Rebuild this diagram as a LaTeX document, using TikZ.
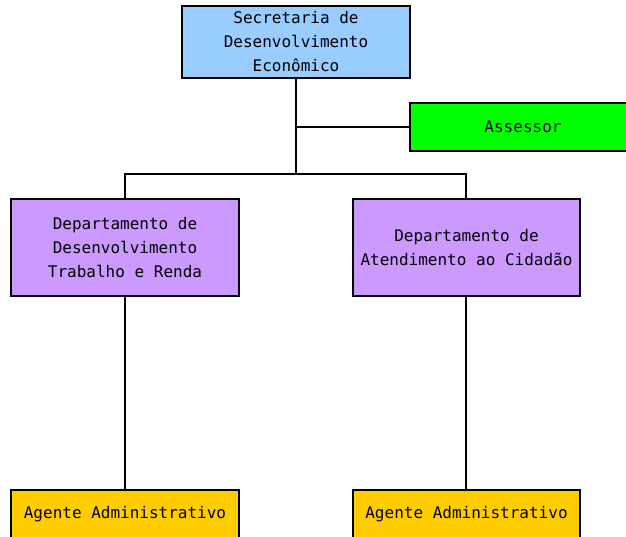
\documentclass[tikz,border=0pt]{standalone}
\usepackage{fontspec}
\setmonofont{DejaVu Sans Mono}
\definecolor{cblue}{HTML}{99CCFF}
\definecolor{cgreen}{HTML}{00FF00}
\definecolor{cviolet}{HTML}{CC99FF}
\definecolor{cgold}{HTML}{FFCC00}
\begin{document}
\begin{tikzpicture}[x=1pt,y=-1pt,
  box/.style={draw=black, line width=2pt, align=center, inner sep=0pt,
    font=\ttfamily\fontsize{16}{24}\selectfont, text=black},
  link/.style={draw=black, line width=2pt}]
\useasboundingbox (0,0) rectangle (626,536);
\node[box, fill=cblue, minimum width=228pt, minimum height=72pt] (sec) at (296,42)
  {Secretaria de\\Desenvolvimento\\Econômico};
\node[box, fill=cgreen, minimum width=226pt, minimum height=48pt] (ass) at (523,127) {Assessor};
\node[box, fill=cviolet, minimum width=228pt, minimum height=97pt] (dl) at (125,247.5)
  {Departamento de\\Desenvolvimento\\Trabalho e Renda};
\node[box, fill=cviolet, minimum width=227pt, minimum height=97pt] (dr) at (466.5,247.5)
  {Departamento de\\Atendimento ao Cidadão};
\node[box, fill=cgold, minimum width=228pt, minimum height=48pt] (al) at (125,514) {Agente Administrativo};
\node[box, fill=cgold, minimum width=227pt, minimum height=48pt] (ar) at (466.5,514) {Agente Administrativo};
\coordinate (j) at (296,174);
\draw[link] (sec.south) -- (j);
\draw[link] (sec.south |- ass.west) -- (ass.west);
\draw[link] (dl.north) |- (j) -| (466,199);
\draw[link] (dl.south) -- (al.north);
\draw[link] (466,296) -- (466,490);
\end{tikzpicture}
\end{document}
